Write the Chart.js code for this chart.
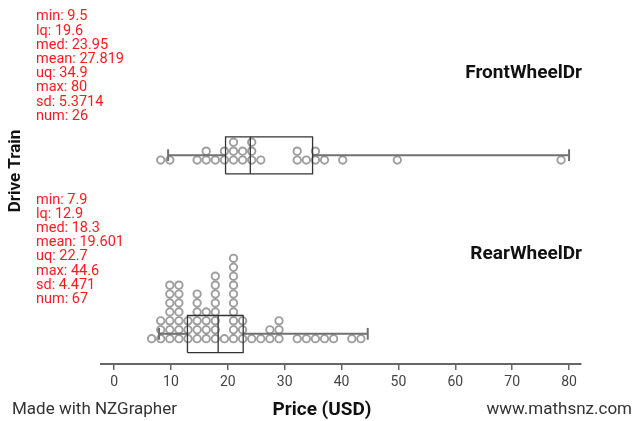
<!DOCTYPE html>
<html>
<head>
<meta charset="utf-8">
<script src="https://cdn.jsdelivr.net/npm/chart.js@4.4.1/dist/chart.umd.min.js"></script>
<style>
  html, body { margin: 0; padding: 0; background: #fff; }
  canvas { display: block; }
</style>
</head>
<body>
<canvas id="c" width="635" height="421"></canvas>
<script>
// ---------------- DATA ----------------
const groups = ["FrontWheelDr", "RearWheelDr"];

const frontPrices = [9.5, 10.5, 15.5, 16.9, 17.3, 18.5, 19.6, 20.3, 21.5, 21.8, 22.2,
  23.0, 23.5, 24.4, 24.9, 25.4, 26.0, 32.9, 33.3, 34.9, 35.9, 36.3, 37.8, 40.9, 50.5, 80.0];

const rearPrices = [7.9, 8.8, 9.0, 9.5,
  10.0, 10.2, 10.5, 10.7, 10.9, 11.0, 11.2,
  11.6, 11.9, 12.2, 12.5, 12.7, 12.9, 12.9,
  13.5, 13.9, 14.4,
  15.1, 15.5, 15.7, 15.9, 15.9, 16.0,
  16.3, 16.9, 17.0, 17.5,
  17.9, 18.2, 18.3, 18.5, 18.8, 19.0, 19.1, 19.3,
  19.9,
  21.0, 21.1, 21.1, 21.2, 21.3, 21.4, 21.5, 21.6, 21.8, 22.0,
  22.7, 23.3, 23.9,
  25.0, 26.5, 27.6, 28.1, 29.1, 29.3, 29.6,
  32.4, 34.0, 35.6, 37.2, 38.8, 42.6, 44.6];

// five-number summaries: min, lq, med, uq, max
const frontFive = [9.5, 19.6, 23.95, 34.9, 80];
const rearFive  = [7.9, 12.9, 18.3, 22.7, 44.6];

const statNames  = ["min", "lq", "med", "mean", "uq", "max", "sd", "num"];
const frontStats = ["9.5", "19.6", "23.95", "27.819", "34.9", "80", "5.3714", "26"];
const rearStats  = ["7.9", "12.9", "18.3", "19.601", "22.7", "44.6", "4.471", "67"];

const xTicks = [0, 10, 20, 30, 40, 50, 60, 70, 80];
const xTitle = "Price (USD)";
const yTitle = "Drive Train";
const footerLeft = "Made with NZGrapher";
const footerRight = "www.mathsnz.com";

// ---------------- BUILD ----------------
const BIN_START = 6.6, BIN_WIDTH = 1.6;   // dot-plot binning (price units)
const FRONT_BASE = 22.83, REAR_BASE = 2.83; // baseline row of each group (row units)

function dotStack(values, base) {
  const counts = {};
  return values.slice().sort((a, b) => a - b).map(v => {
    const k = Math.floor((v - BIN_START) / BIN_WIDTH + 1e-9);
    const r = counts[k] || 0;
    counts[k] = r + 1;
    return { x: BIN_START + k * BIN_WIDTH, y: base + r };
  });
}

function boxDatasets(f, base) {
  const w = base + 0.55, bot = base - 1.55, top = base + 2.6, cap = 0.66;
  const boxStyle = { borderColor: '#333', borderWidth: 1.3 };
  const whiskStyle = { borderColor: '#707070', borderWidth: 2 };
  const mk = (data, st) => Object.assign({ type: 'scatter', showLine: true, data, pointRadius: 0, tension: 0, fill: false }, st);
  return [
    mk([{x: f[1], y: bot}, {x: f[3], y: bot}, {x: f[3], y: top}, {x: f[1], y: top}, {x: f[1], y: bot}], boxStyle),
    mk([{x: f[2], y: bot}, {x: f[2], y: top}], boxStyle),
    mk([{x: f[0], y: w}, {x: f[1], y: w}], whiskStyle),
    mk([{x: f[3], y: w}, {x: f[4], y: w}], whiskStyle),
    mk([{x: f[0], y: w - cap}, {x: f[0], y: w + cap}], whiskStyle),
    mk([{x: f[4], y: w - cap}, {x: f[4], y: w + cap}], whiskStyle)
  ];
}

const dotStyle = { pointRadius: 3.7, pointBorderWidth: 1.9, pointBorderColor: 'rgba(120,120,120,0.72)', pointBackgroundColor: 'rgba(0,0,0,0)', showLine: false };

const datasets = [
  ...boxDatasets(frontFive, FRONT_BASE),
  ...boxDatasets(rearFive, REAR_BASE),
  Object.assign({ type: 'scatter', data: dotStack(frontPrices, FRONT_BASE) }, dotStyle),
  Object.assign({ type: 'scatter', data: dotStack(rearPrices, REAR_BASE) }, dotStyle)
];

const textPlugin = {
  id: 'texts',
  beforeDraw(chart) {
    const c = chart.ctx;
    c.save();
    c.fillStyle = '#fff';
    c.fillRect(0, 0, chart.width, chart.height);
    c.restore();
  },
  afterDraw(chart) {
    const c = chart.ctx;
    c.save();
    // summary stats
    c.font = '14.5px Roboto';
    c.fillStyle = '#ff1a1a';
    c.textAlign = 'left';
    c.textBaseline = 'middle';
    [[frontStats, 16.7], [rearStats, 200]].forEach(([vals, y0]) => {
      vals.forEach((v, i) => c.fillText(statNames[i] + ': ' + v, 36, y0 + i * 14.2));
    });
    // group labels
    c.font = 'bold 19px Roboto';
    c.fillStyle = '#111';
    c.textAlign = 'right';
    c.fillText(groups[0], 582, 73);
    c.fillText(groups[1], 582, 254);
    // axis titles
    c.textAlign = 'center';
    c.font = 'bold 19px Roboto';
    c.fillText(xTitle, 322, 410);
    c.save();
    c.translate(16, 171);
    c.rotate(-Math.PI / 2);
    c.font = 'bold 17px Roboto';
    c.fillText(yTitle, 0, 0);
    c.restore();
    // footer
    c.font = '17px Roboto';
    c.fillStyle = '#333';
    c.textAlign = 'left';
    c.fillText(footerLeft, 12, 410);
    c.textAlign = 'right';
    c.fillText(footerRight, 632, 410);
    c.restore();
  }
};

new Chart(document.getElementById('c'), {
  type: 'scatter',
  data: { datasets },
  options: {
    responsive: false,
    devicePixelRatio: 1,
    animation: false,
    layout: { padding: { left: 101, right: 54, top: 0, bottom: 0 } },
    plugins: { legend: { display: false }, tooltip: { enabled: false } },
    scales: {
      x: {
        type: 'linear',
        position: 'bottom',
        min: -2.3,
        max: 82.1,
        afterBuildTicks: s => { s.ticks = xTicks.map(v => ({ value: v })); },
        afterFit: s => { s.height = 57; },
        grid: { display: true, drawOnChartArea: false, drawTicks: true, tickLength: 6, color: '#666', lineWidth: 1.5 },
        border: { display: true, color: '#666', width: 2 },
        ticks: { font: { family: 'Roboto', size: 14 }, color: '#444', padding: 4 }
      },
      y: {
        display: false,
        min: 0,
        max: 40.09
      }
    }
  },
  plugins: [textPlugin]
});
</script>
</body>
</html>
